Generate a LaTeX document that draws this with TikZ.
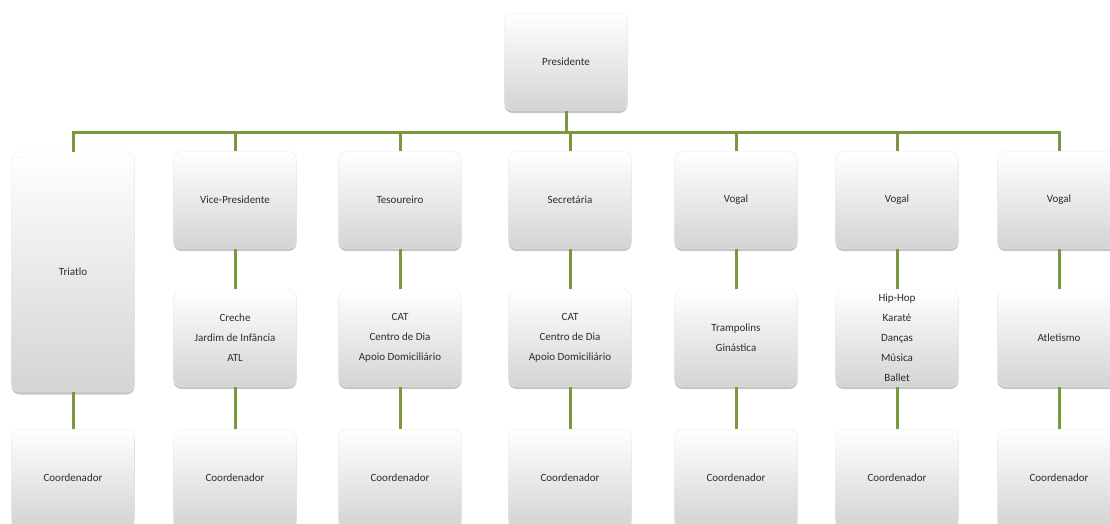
\documentclass[tikz,border=0pt]{standalone}
\usepackage{fontspec}
\setmainfont{Carlito}
\usetikzlibrary{positioning, shadows}
\definecolor{linkgreen}{RGB}{122,152,62}
\definecolor{textgray}{RGB}{45,45,45}

\begin{document}
\begin{tikzpicture}[x=1pt, y=-1pt,
    box/.style={draw=black!8, rounded corners=8pt, minimum width=123pt, minimum height=97pt,
        top color=white, middle color=white, bottom color=black!17, align=center,
        font=\fontsize{11}{20}\selectfont, text=textgray, inner sep=2pt,
        drop shadow={opacity=0.45, shadow xshift=0pt, shadow yshift=-2.5pt}},
    link/.style={linkgreen, line width=3pt}]
    \clip (0,0) rectangle (1110,523);

    % Top of the chart
    \node[box] (pres) at (566,62) {Presidente};
    \coordinate (busL) at (73,132);
    \coordinate (busR) at (1059,132);

    % First row
    \node[box, minimum height=240pt] (t1) at (73,272) {Triatlo};
    \node[box] (t2) at (235,200) {Vice-Presidente};
    \node[box] (t3) at (400,200) {Tesoureiro};
    \node[box] (t4) at (570,200) {Secretária};
    \node[box] (t5) at (736,200) {Vogal};
    \node[box] (t6) at (897,200) {Vogal};
    \node[box] (t7) at (1059,200) {Vogal};

    % Second row
    \node[box] (m2) at (235,338) {Creche\\Jardim de Infância\\ATL};
    \node[box] (m3) at (400,338) {CAT\\Centro de Dia\\Apoio Domiciliário};
    \node[box] (m4) at (570,338) {CAT\\Centro de Dia\\Apoio Domiciliário};
    \node[box] (m5) at (736,338) {Trampolins\\Ginástica};
    \node[box] (m6) at (897,338) {Hip-Hop\\Karaté\\Danças\\Música\\Ballet};
    \node[box] (m7) at (1059,338) {Atletismo};

    % Coordinators
    \foreach \i/\x in {1/73, 2/235, 3/400, 4/570, 5/736, 6/897, 7/1059}
        \node[box] (c\i) at (\x,478) {Coordenador};

    % Connectors
    \draw[link] (pres.south) -- (pres.south |- busL);
    \draw[link, line cap=rect] (busL) -- (busR);
    \foreach \i in {1,...,7}
        \draw[link] (t\i.north |- busL) -- (t\i.north);
    \draw[link] (t1) -- (c1);
    \foreach \i in {2,...,7} {
        \draw[link] (t\i) -- (m\i);
        \draw[link] (m\i) -- (c\i);
    }
\end{tikzpicture}
\end{document}
